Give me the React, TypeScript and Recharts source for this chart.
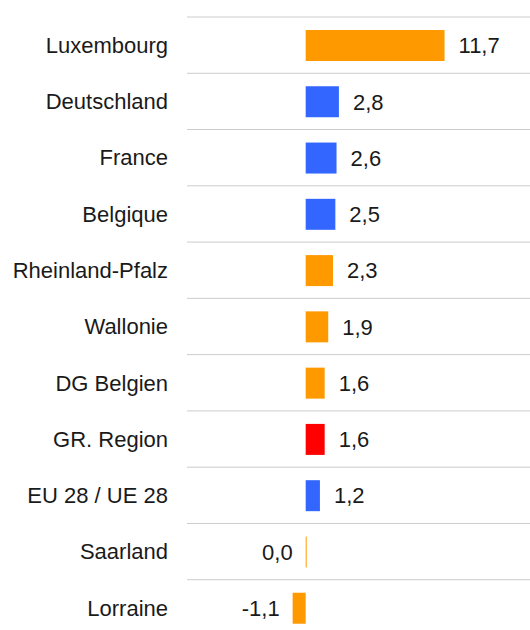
import { Bar, BarChart, Cell, LabelList, ReferenceLine, XAxis, YAxis } from "recharts";

const regions = [
  "Luxembourg",
  "Deutschland",
  "France",
  "Belgique",
  "Rheinland-Pfalz",
  "Wallonie",
  "DG Belgien",
  "GR. Region",
  "EU 28 / UE 28",
  "Saarland",
  "Lorraine",
];
const growth = [11.7, 2.8, 2.6, 2.5, 2.3, 1.9, 1.6, 1.6, 1.2, 0.0, -1.1];
const kind = [
  "region",
  "country",
  "country",
  "country",
  "region",
  "region",
  "region",
  "total",
  "country",
  "region",
  "region",
];

const COLORS: Record<string, string> = {
  region: "#ff9900",
  country: "#3366ff",
  total: "#ff0000",
};

const FONT = "Arial, 'Liberation Sans', sans-serif";
const FS = 22;

const data = regions.map((name, i) => ({ name, value: growth[i], kind: kind[i] }));

function ValueLabel(props: any) {
  const { x, y, width, height, value } = props;
  const left = Math.min(x, x + width);
  const right = Math.max(x, x + width);
  const pos = value > 0;
  return (
    <text
      x={pos ? right + 14 : left - 13}
      y={y + height / 2}
      dy="0.355em"
      textAnchor={pos ? "start" : "end"}
      fontSize={FS}
      fontFamily={FONT}
      fill="#1a1a1a"
    >
      {value.toFixed(1).replace(".", ",")}
    </text>
  );
}

export default function App() {
  return (
    <div
      style={{
        position: "fixed",
        top: 0,
        left: 0,
        width: 530,
        height: 630,
        overflow: "hidden",
        background: "#fff",
      }}
    >
      <BarChart
        width={530}
        height={640}
        data={data}
        layout="vertical"
        margin={{ top: 17, right: 0, bottom: 4, left: 0 }}
        barCategoryGap={0}
      >
        <XAxis type="number" domain={[-10, 18.9]} hide />
        <YAxis
          yAxisId="cat"
          type="category"
          dataKey="name"
          width={187}
          axisLine={false}
          tickLine={false}
          tickSize={0}
          tickMargin={19}
          interval={0}
          tick={{ fontSize: FS, fontFamily: FONT, fill: "#1a1a1a" }}
        />
        {regions.map((r) => (
          <ReferenceLine
            key={r}
            yAxisId="cat"
            y={r}
            position="start"
            stroke="#cccccc"
            strokeWidth={1}
          />
        ))}
        <Bar
          yAxisId="cat"
          dataKey="value"
          barSize={31}
          minPointSize={1}
          isAnimationActive={false}
        >
          {data.map((d) => (
            <Cell key={d.name} fill={COLORS[d.kind]} />
          ))}
          <LabelList dataKey="value" content={<ValueLabel />} />
        </Bar>
      </BarChart>
    </div>
  );
}
